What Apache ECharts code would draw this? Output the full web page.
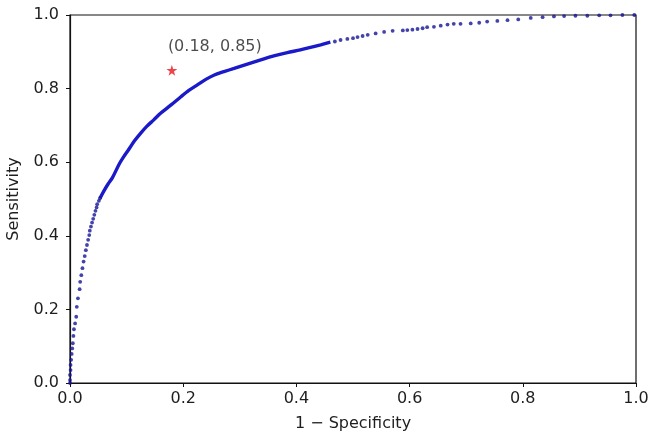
<!DOCTYPE html>
<html>
<head>
<meta charset="utf-8">
<script src="https://cdn.jsdelivr.net/npm/echarts@6/dist/echarts.min.js"></script>
<style>
  html, body { margin: 0; padding: 0; background: #fff; }
  #chart { width: 653px; height: 441px; }
</style>
</head>
<body>
<div id="chart"></div>
<script>
// ---- data (1 - specificity, sensitivity) ----
const lowerDots = [
  [0.000, 0.000], [0.000, 0.008], [0.000, 0.022], [0.001, 0.035], [0.001, 0.049],
  [0.002, 0.063], [0.003, 0.079], [0.004, 0.094], [0.005, 0.108], [0.006, 0.128],
  [0.007, 0.146], [0.009, 0.162], [0.011, 0.180], [0.012, 0.207], [0.014, 0.230],
  [0.017, 0.255], [0.018, 0.275], [0.020, 0.293], [0.022, 0.312], [0.024, 0.330],
  [0.026, 0.345], [0.028, 0.361], [0.030, 0.375], [0.032, 0.389], [0.034, 0.402],
  [0.035, 0.414], [0.037, 0.425], [0.039, 0.436], [0.041, 0.446], [0.043, 0.457],
  [0.045, 0.468], [0.047, 0.477], [0.048, 0.486], [0.051, 0.495], [0.053, 0.502]
];
const denseCurve = [
  [0.053, 0.502], [0.060, 0.522], [0.067, 0.540], [0.075, 0.558], [0.087, 0.595],
  [0.095, 0.615], [0.104, 0.635], [0.114, 0.658], [0.125, 0.679], [0.136, 0.698],
  [0.148, 0.715], [0.160, 0.733], [0.178, 0.755], [0.196, 0.778], [0.210, 0.795],
  [0.225, 0.810], [0.240, 0.825], [0.255, 0.837], [0.272, 0.846], [0.290, 0.855],
  [0.312, 0.866], [0.337, 0.878], [0.360, 0.889], [0.384, 0.898], [0.407, 0.905],
  [0.425, 0.912], [0.443, 0.919], [0.460, 0.926]
];
const upperDots = [
  [0.468, 0.928], [0.478, 0.932], [0.490, 0.935], [0.500, 0.937], [0.508, 0.940],
  [0.517, 0.943], [0.526, 0.946], [0.540, 0.950], [0.555, 0.954], [0.570, 0.957],
  [0.588, 0.958], [0.596, 0.959], [0.605, 0.960], [0.614, 0.962], [0.623, 0.964],
  [0.631, 0.967], [0.643, 0.968], [0.655, 0.971], [0.667, 0.974], [0.678, 0.976],
  [0.690, 0.976], [0.708, 0.977], [0.723, 0.979], [0.737, 0.982], [0.755, 0.984],
  [0.773, 0.986], [0.792, 0.988], [0.814, 0.992], [0.835, 0.994], [0.855, 0.996],
  [0.873, 0.997], [0.893, 0.998], [0.914, 0.998], [0.935, 0.999], [0.955, 0.999],
  [0.976, 1.000], [0.997, 1.000]
];
const optimalPoint = [0.18, 0.85];
const optimalLabel = '(0.18, 0.85)';
const axisTicks = [0.0, 0.2, 0.4, 0.6, 0.8, 1.0];
const xTitle = '1 \u2212 Specificity';
const yTitle = 'Sensitivity';

const FONT = 'DejaVu Sans';
const TXT = '#1e1e1e';
const FS = 16;
const starPath = 'path://M50,0 L61,35 L98,35 L68,57 L79,91 L50,70 L21,91 L32,57 L2,35 L39,35 Z';

const chart = echarts.init(document.getElementById('chart'), null, { renderer: 'canvas' });

function axisCommon(name, isX) {
  return {
    type: 'value',
    min: axisTicks[0],
    max: axisTicks[axisTicks.length - 1],
    interval: 0.2,
    name: name,
    nameLocation: 'middle',
    nameGap: isX ? 33 : 48,
    nameTextStyle: { fontFamily: FONT, fontSize: FS, color: TXT },
    axisLine: { show: true, onZero: false, lineStyle: { color: '#111', width: 1.2 } },
    axisTick: { show: true, inside: false, length: 4, lineStyle: { color: '#111', width: 1 } },
    axisLabel: {
      fontFamily: FONT, fontSize: FS, color: TXT, margin: isX ? 8 : 11,
      formatter: v => v.toFixed(1)
    },
    splitLine: { show: false }
  };
}

chart.setOption({
  animation: false,
  backgroundColor: '#fff',
  grid: {
    left: 70, right: 17, top: 15, bottom: 58,
    containLabel: false,
    outerBoundsMode: 'none',
    show: true, borderColor: '#111', borderWidth: 1.2, backgroundColor: 'transparent'
  },
  xAxis: axisCommon(xTitle, true),
  yAxis: axisCommon(yTitle, false),
  series: [
    {
      type: 'line',
      data: denseCurve,
      showSymbol: false,
      smooth: 0.3,
      lineStyle: { color: '#1a1ac8', width: 3.4 },
      z: 2
    },
    {
      type: 'scatter',
      data: lowerDots.concat(upperDots),
      symbol: 'circle',
      symbolSize: 3.8,
      itemStyle: { color: '#141496' },
      z: 3
    },
    {
      type: 'scatter',
      data: [optimalPoint],
      symbol: starPath,
      symbolSize: 11,
      itemStyle: { color: '#e8141e' },
      label: {
        show: true,
        formatter: optimalLabel,
        position: 'top',
        align: 'left',
        offset: [-4, -5],
        fontFamily: FONT, fontSize: FS, color: TXT
      },
      z: 4
    }
  ]
});
</script>
</body>
</html>
